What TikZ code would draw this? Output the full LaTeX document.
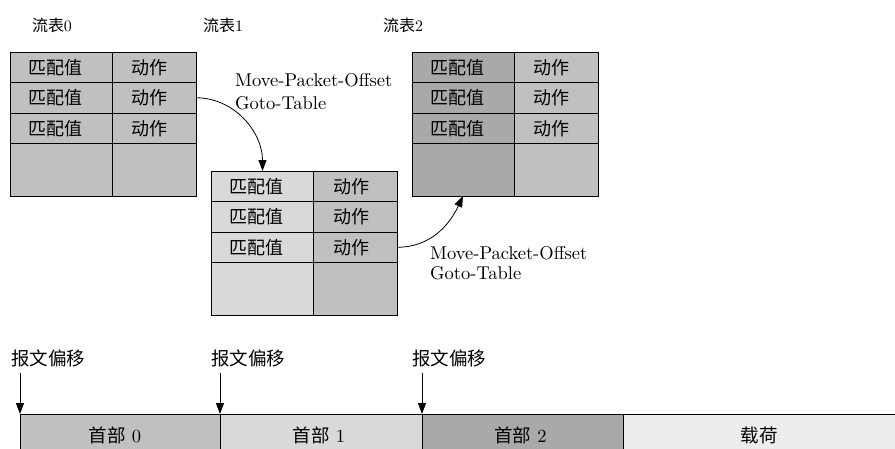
\documentclass[tikz,border=0pt]{standalone}
\usepackage{fontspec}
\setmainfont{lmroman10-regular.otf}
\newfontfamily\cjk{Noto Sans CJK SC}
\usetikzlibrary{arrows.meta}
\definecolor{gmid}{HTML}{C0C0C0}
\definecolor{glight}{HTML}{D9D9D9}
\definecolor{gdark}{HTML}{A9A9A9}
\definecolor{gpale}{HTML}{EDEDED}
\tikzset{
  cell/.style={draw=black, line width=0.8pt, anchor=north west, inner sep=0pt, outer sep=0pt,
    font=\fontsize{18}{20}\selectfont\cjk},
  arr/.style={line width=0.8pt, -{Triangle[length=11pt,width=8pt]}},
  lbl/.style={inner sep=0pt, font=\fontsize{18.5}{22}\selectfont},
  title/.style={inner sep=0pt, font=\fontsize{16}{19}\selectfont},
  seg/.style={draw=black, line width=0.8pt, anchor=north west, inner sep=0pt, outer sep=0pt,
    minimum height=42pt, font=\fontsize{18.5}{22}\selectfont},
}
\newcommand\flowtable[5]{%
  \node[cell, fill=#4, minimum width=102pt, minimum height=30.5pt] (#1-1l) at (#2,#3) {匹配值\kern12pt};
  \node[cell, fill=#5, minimum width=84pt, minimum height=30.5pt] (#1-1r) at (#2+102,#3) {动作\kern9pt};
  \node[cell, fill=#4, minimum width=102pt, minimum height=30.5pt] (#1-2l) at (#2,#3+30.5) {匹配值\kern12pt};
  \node[cell, fill=#5, minimum width=84pt, minimum height=30.5pt] (#1-2r) at (#2+102,#3+30.5) {动作\kern9pt};
  \node[cell, fill=#4, minimum width=102pt, minimum height=30.5pt] (#1-3l) at (#2,#3+61) {匹配值\kern12pt};
  \node[cell, fill=#5, minimum width=84pt, minimum height=30.5pt] (#1-3r) at (#2+102,#3+61) {动作\kern9pt};
  \node[cell, fill=#4, minimum width=102pt, minimum height=52.5pt] (#1-4l) at (#2,#3+91.5) {};
  \node[cell, fill=#5, minimum width=84pt, minimum height=52.5pt] (#1-4r) at (#2+102,#3+91.5) {};
}
\begin{document}
\begin{tikzpicture}[x=1pt, y=-1pt]
\useasboundingbox (0,0) rectangle (895,448);
\clip (0,0) rectangle (895,448);
\fill[white] (0,0) rectangle (895,448);

% titles
\node[title] (ti0) at (52,25) {{\cjk 流表}0};
\node[title] (ti1) at (223,25) {{\cjk 流表}1};
\node[title] (ti2) at (403,25) {{\cjk 流表}2};

% tables
\flowtable{t0}{10}{52}{gmid}{gmid}
\flowtable{t1}{211.5}{171}{glight}{gmid}
\flowtable{t2}{412}{52}{gdark}{gmid}

% connectors
\draw[arr] (t0-2r.east) to[out=0, in=90] (t1-1l.north);
\draw[arr] (t1-3r.east) to[out=0, in=245] (t2-4l.south);

\node[lbl, anchor=west, align=left, font=\fontsize{18.5}{22.6}\selectfont] (m1) at (235,91.5) {Move-Packet-Offset\\Goto-Table};
\node[lbl, anchor=west, align=left, font=\fontsize{18.5}{20}\selectfont] (m2) at (430,263) {Move-Packet-Offset\\Goto-Table};

% packet bar
\node[seg, fill=gmid, minimum width=200pt] (h0) at (20,414) {{\cjk 首部} 0\kern10pt};
\node[seg, fill=glight, minimum width=202pt] (h1) at (220,414) {{\cjk 首部} 1\kern4pt};
\node[seg, fill=gdark, minimum width=201pt] (h2) at (422,414) {{\cjk 首部} 2\kern4pt};
\node[seg, fill=gpale, minimum width=274pt] (pl) at (623,414) {\cjk 载荷\kern2pt};

% offsets
\node[lbl, anchor=west, font=\fontsize{18.5}{22}\selectfont\cjk] (o0) at (11,358) {报文偏移};
\node[lbl, anchor=west, font=\fontsize{18.5}{22}\selectfont\cjk] (o1) at (211,358) {报文偏移};
\node[lbl, anchor=west, font=\fontsize{18.5}{22}\selectfont\cjk] (o2) at (412,358) {报文偏移};
\coordinate (a0) at (20,373);
\coordinate (a1) at (220,373);
\coordinate (a2) at (422,373);
\draw[arr] (a0) -- (h0.north west);
\draw[arr] (a1) -- (h1.north west);
\draw[arr] (a2) -- (h2.north west);
\end{tikzpicture}
\end{document}
